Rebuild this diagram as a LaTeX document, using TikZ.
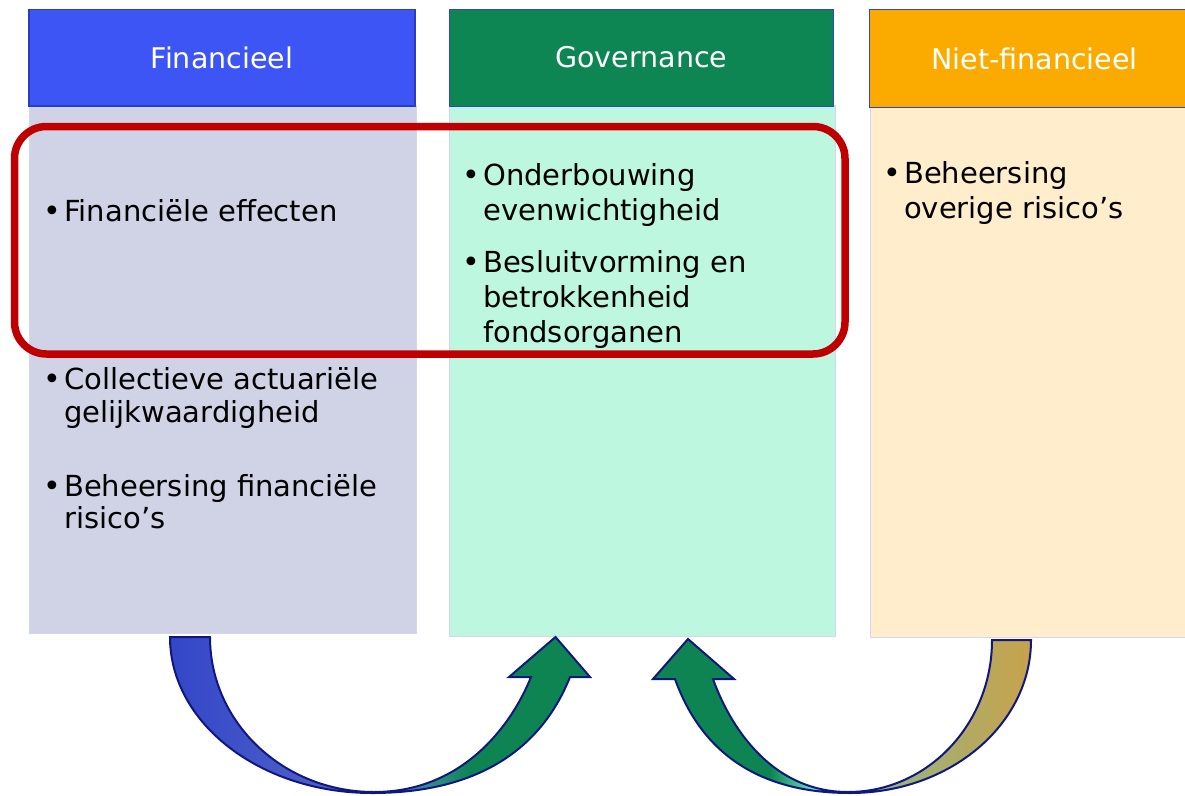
\documentclass[tikz,border=0pt]{standalone}
\usepackage{fontspec}
\setmainfont{DejaVu Sans}
\definecolor{hA}{HTML}{3D55F5}
\definecolor{hAline}{HTML}{2A3CC0}
\definecolor{hB}{HTML}{0E8654}
\definecolor{hC}{HTML}{FBAB00}
\definecolor{hline}{HTML}{3344CC}
\definecolor{bA}{HTML}{D0D2E6}
\definecolor{bB}{HTML}{BDF7E0}
\definecolor{bC}{HTML}{FFEDCC}
\definecolor{bline}{HTML}{D4D6F0}
\definecolor{redline}{HTML}{C00000}
\definecolor{navy}{HTML}{101880}
\definecolor{aBlue}{HTML}{3346C8}
\definecolor{aBlue2}{HTML}{5464C8}
\definecolor{aMix1}{HTML}{4A80B0}
\definecolor{aMix2}{HTML}{2A8A80}
\definecolor{aGreen}{HTML}{0E8452}
\definecolor{aMint}{HTML}{6EE8BB}
\definecolor{aOlive}{HTML}{8AB890}
\definecolor{aGold}{HTML}{C8A24A}
\pgfdeclarehorizontalshading{arrowA}{100bp}{color(0bp)=(aBlue); color(25bp)=(aBlue); color(46.4bp)=(aBlue2); color(52.4bp)=(aMix1); color(57.1bp)=(aMix2); color(60.7bp)=(aGreen); color(100bp)=(aGreen)}
\pgfdeclarehorizontalshading{arrowB}{100bp}{color(0bp)=(aGreen); color(25bp)=(aGreen); color(40.5bp)=(aGreen); color(46.4bp)=(aMint); color(51.1bp)=(aOlive); color(75bp)=(aGold); color(100bp)=(aGold)}
\newcommand{\hfont}{\fontsize{28.5}{34}\selectfont}
\newcommand{\tfont}{\fontsize{29}{34}\selectfont}
\newcommand{\bfont}{\fontsize{30}{34}\selectfont}
\begin{document}
\begin{tikzpicture}[x=1pt,y=-1pt,
  hdr/.style={rectangle, draw=hline, line width=1.2pt, text=white, font=\hfont, inner sep=0pt, anchor=north west},
  colbody/.style={rectangle, draw=bline, line width=0.8pt, inner sep=0pt, anchor=north west},
  txt/.style={anchor=base west, inner sep=0pt, font=\tfont},
  bul/.style={anchor=base east, inner sep=0pt, font=\bfont},
  highlight/.style={rectangle, draw=redline, line width=7.5pt, rounded corners=32pt, inner sep=0pt},
  bigarrow/.style={draw=navy, line width=2pt, line join=miter}
]
\useasboundingbox (0,0) rectangle (1185,795);
\fill[white] (0,0) rectangle (1185,795);
% column bodies
\node[colbody, fill=bA, minimum width=386.5pt, minimum height=528pt] (b1) at (29,105) {};
\node[colbody, fill=bB, minimum width=385.5pt, minimum height=531pt] (b2) at (449,105) {};
\node[colbody, fill=bC, minimum width=330pt, minimum height=530pt] (b3) at (870,107) {};
% headers
\node[hdr, draw=hAline, line width=1.8pt, fill=hA, minimum width=386pt, minimum height=96.5pt] (h1) at (28,8.5) {Financieel};
\node[hdr, fill=hB, minimum width=384.5pt, minimum height=97pt] (h2) at (448.5,8.5) {Governance};
\node[hdr, fill=hC, minimum width=330pt, minimum height=98pt] (h3) at (869,9) {\makebox[318pt]{Niet-financieel}};
% highlight
\node[highlight, minimum width=830.5pt, minimum height=227.5pt] (hl) at (429.75,240.25) {};
% column 1 text
\node[bul] (p11) at (61,221) {•};
\node[txt] (t11) at (64,221) {Financiële effecten};
\node[bul] (p12) at (61,389) {•};
\node[txt] (t12) at (64,389) {Collectieve actuariële};
\node[txt] (t13) at (64,422) {gelijkwaardigheid};
\node[bul] (p14) at (61,496) {•};
\node[txt] (t14) at (64,496) {Beheersing financiële};
\node[txt] (t15) at (64,528) {risico’s};
% column 2 text
\node[bul] (p21) at (480,185) {•};
\node[txt] (t21) at (483,185) {Onderbouwing};
\node[txt] (t22) at (483,220) {evenwichtigheid};
\node[bul] (p23) at (480,272) {•};
\node[txt] (t23) at (483,272) {Besluitvorming en};
\node[txt] (t24) at (483,307) {betrokkenheid};
\node[txt] (t25) at (483,342) {fondsorganen};
% column 3 text
\node[bul] (p31) at (901,183) {•};
\node[txt] (t31) at (904,183) {Beheersing};
\node[txt] (t32) at (904,218) {overige risico’s};
% arrow 1
\shadedraw[bigarrow, shading=arrowA]
  (170,637) .. controls (170,723.2) and (260.4,793) .. (372,793)
  .. controls (502,793) and (550,727) .. (570,677)
  -- (590,677) -- (555.5,637) -- (509,677) -- (531,677)
  .. controls (513,722) and (465,792) .. (374,792)
  .. controls (283.4,792) and (210,722.6) .. (210,637)
  -- cycle;
% arrow 2
\shadedraw[bigarrow, shading=arrowB]
  (1031,640) .. controls (1031,724.5) and (950,793) .. (850,793)
  .. controls (735,793) and (693,729) .. (675,679)
  -- (653,679) -- (688,639) -- (734,679) -- (713,679)
  .. controls (729,724) and (770,792) .. (848,792)
  .. controls (927.5,792) and (992,724) .. (992,640)
  -- cycle;
\end{tikzpicture}
\end{document}
